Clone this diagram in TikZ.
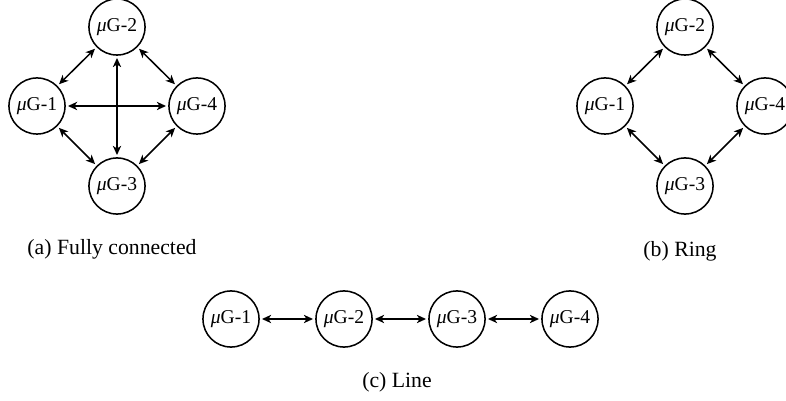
\documentclass[tikz,border=0pt]{standalone}
\usepackage{fontspec}
\setmainfont{Liberation Serif}
\usetikzlibrary{arrows.meta}
\begin{document}
\begin{tikzpicture}[x=0.46pt,y=-0.46pt,
  mg/.style={circle,draw,line width=0.7pt,minimum size=25.8pt,inner sep=0pt,font=\fontsize{9}{10}\selectfont},
  link/.style={{Stealth[length=4.2pt,width=3.8pt,inset=1.2pt]}-{Stealth[length=4.2pt,width=3.8pt,inset=1.2pt]},line width=0.7pt,shorten <=1pt,shorten >=1pt},
  captext/.style={font=\fontsize{10}{12}\selectfont,inner sep=0pt}]
\useasboundingbox (0,0) rectangle (786,401);
% (a) Fully connected
\node[mg] (a1) at (37,106) {\textit{μ}G-1};
\node[mg] (a2) at (117,27) {\textit{μ}G-2};
\node[mg] (a3) at (117,186) {\textit{μ}G-3};
\node[mg] (a4) at (197,106) {\textit{μ}G-4};
\draw[link] (a1) -- (a2);
\draw[link] (a2) -- (a4);
\draw[link] (a1) -- (a3);
\draw[link] (a3) -- (a4);
\draw[link] (a1) -- (a4);
\draw[link] (a2) -- (a3);
\node[captext] (capa) at (112,249) {(a) Fully connected};
% (b) Ring
\node[mg] (b1) at (605,106) {\textit{μ}G-1};
\node[mg] (b2) at (685,27) {\textit{μ}G-2};
\node[mg] (b3) at (685,186) {\textit{μ}G-3};
\node[mg] (b4) at (765,106) {\textit{μ}G-4};
\draw[link] (b1) -- (b2);
\draw[link] (b2) -- (b4);
\draw[link] (b1) -- (b3);
\draw[link] (b3) -- (b4);
\node[captext] (capb) at (680,251) {(b) Ring};
% (c) Line
\node[mg] (c1) at (231,319) {\textit{μ}G-1};
\node[mg] (c2) at (344,319) {\textit{μ}G-2};
\node[mg] (c3) at (457,319) {\textit{μ}G-3};
\node[mg] (c4) at (570,319) {\textit{μ}G-4};
\draw[link] (c1) -- (c2);
\draw[link] (c2) -- (c3);
\draw[link] (c3) -- (c4);
\node[captext] (capc) at (397,382) {(c) Line};
\end{tikzpicture}
\end{document}
